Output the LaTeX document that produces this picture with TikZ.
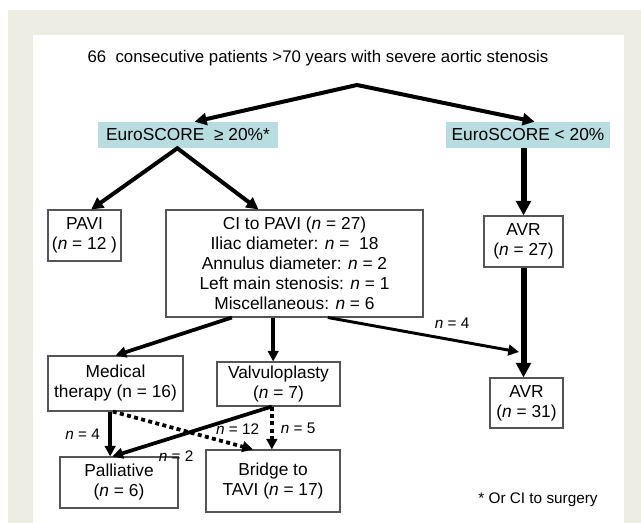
\documentclass[tikz,border=0pt]{standalone}
\usepackage{fontspec}
\setmainfont{Liberation Sans}
\usetikzlibrary{arrows.meta}
\definecolor{panel}{RGB}{237,237,227}
\definecolor{score}{RGB}{183,221,225}
\definecolor{rim}{RGB}{85,85,85}
\tikzset{
% Two box styles for the chart: framed and shaded
plain box/.style={draw=rim,line width=0.8pt,inner sep=0,align=center},
score box/.style={fill=score,inner sep=0,align=center},
% Arrow styles
flow/.style={line width=2.8pt,-{Triangle[length=8pt,width=8pt]}},
fork/.style={line width=3pt,{Triangle[length=9pt,width=9pt]}-{Triangle[length=9pt,width=9pt]}},
big flow/.style={line width=4.5pt,-{Triangle[length=11pt,width=11pt]}},
dotted flow/.style={flow,dash pattern=on 3pt off 2.5pt},
count/.style={font=\fontsize{11.5}{13}\selectfont}
}

\begin{document}
\begin{tikzpicture}[x=0.75pt,y=-0.75pt,font=\fontsize{13}{15}\selectfont]
      % Frame: beige margin and white panel
      \useasboundingbox (0,0) rectangle (641,523);
      \fill[panel] (8,10) rectangle (641,523);
      \fill[white] (33,35) rectangle (624,523);
      % Top line and the split into two groups
      \node(title)[font=\fontsize{12.6}{15}\selectfont] at (318,58) {66\ \ consecutive patients >70 years with severe aortic stenosis};
      \coordinate (split) at (357,85);
      \node(high)[score box,minimum width=135pt,minimum height=19.5pt] at (188,135) {EuroSCORE\ \ ≥ 20\%*};
      \node(low)[score box,minimum width=123pt,minimum height=19.5pt] at (528,135) {EuroSCORE < 20\%};
      % Second row
      \node(pavi)[plain box,minimum width=54.75pt,minimum height=38.25pt] at (84.5,235.5) {PAVI\\(\textit{n} = 12 )};
      \node(ci)[plain box,minimum width=192.75pt,minimum height=80.25pt] at (294.5,263.5)
        {CI to PAVI (\textit{n} = 27)\\Iliac diameter: \textit{n} =\ \ 18\\Annulus diameter: \textit{n} = 2\\
         Left main stenosis: \textit{n} = 1\\Miscellaneous: \textit{n} = 6};
      \node(avr a)[plain box,minimum width=59.25pt,minimum height=38.25pt] at (523.5,241.5) {AVR\\(\textit{n} = 27)};
      % Third row
      \node(medical)[plain box,minimum width=101.25pt,minimum height=41.25pt] at (115.5,383.5) {Medical\\therapy (n = 16)};
      \node(valvulo)[plain box,minimum width=92.25pt,minimum height=33pt] at (278.5,384) {Valvuloplasty\\(\textit{n} = 7)};
      \node(avr b)[plain box,minimum width=54.75pt,minimum height=37.5pt] at (526.5,403) {AVR\\(\textit{n} = 31)};
      % Bottom row
      \node(palliative)[plain box,minimum width=88.5pt,minimum height=38.25pt] at (119,482.5) {Palliative\\(\textit{n} = 6)};
      \node(bridge)[plain box,minimum width=100.5pt,minimum height=46.5pt] at (273,481) {Bridge to\\TAVI (\textit{n} = 17)};
      \node(note)[count] at (538,500) {* Or CI to surgery};
      % Arrows from the top
      \draw[fork] ([xshift=5pt]high.north) -- (split) -- ([xshift=5pt]low.north);
      \draw[fork] ([xshift=5pt]pavi.north) -- ([xshift=-8pt]high.south) -- ([xshift=-27pt]ci.north);
      \draw[big flow] (low.south -| avr a.north) -- (avr a.north);
      \draw[big flow] (avr a.south) -- (avr a.south |- avr b.north);
      % Arrows out of the CI box
      \coordinate (join) at (519,352);
      \draw[flow,line width=2.2pt] ([xshift=25pt]ci.south) -- (join) node[count,pos=0.65,above=4pt]{\textit{n} = 4};
      \draw[flow] ([xshift=-47pt]ci.south) -- (medical.north);
      \draw[flow] ([xshift=-16pt]ci.south) -- ([xshift=-16pt]ci.south |- valvulo.north);
      % Bottom arrows: solid and dotted
      \draw[flow] ([xshift=-4pt]medical.south) -- ([xshift=-4pt]medical.south |- palliative.north)
        node[count,midway,left=3pt]{\textit{n} = 4};
      \draw[dotted flow] ([xshift=-2pt]medical.south) -- ([xshift=-15pt]bridge.north)
        node[count,pos=0.89,above=3pt]{\textit{n} = 12};
      \draw[flow] ([xshift=-5pt]valvulo.south) -- ([xshift=-5pt]palliative.north)
        node[count,pos=0.6,below=6pt]{\textit{n} = 2};
      \draw[dotted flow] ([xshift=-5pt]valvulo.south) -- ([xshift=-5pt]valvulo.south |- bridge.north)
        node[count,midway,right=2pt]{\textit{n} = 5};
\end{tikzpicture}
\end{document}
